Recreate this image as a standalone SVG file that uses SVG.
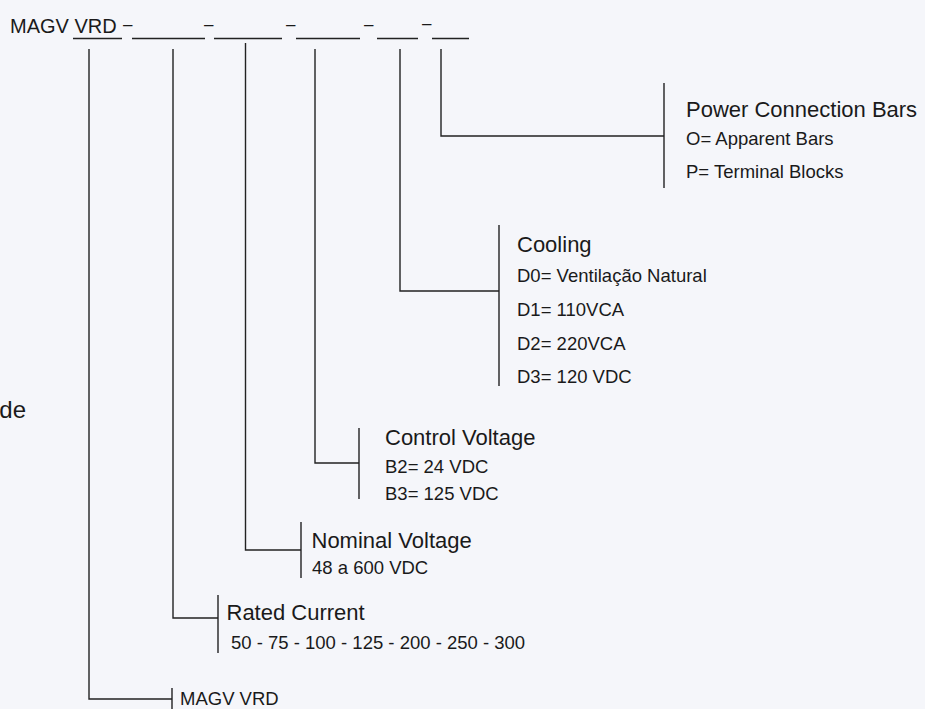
<svg xmlns="http://www.w3.org/2000/svg" width="925" height="709" viewBox="0 0 925 709">
<style>
  text { font-family: "Liberation Sans", Arial, Helvetica, sans-serif; fill: #1a1a1a; }
  .title { font-size: 22px; }
  .sub { font-size: 18.5px; }
  .hdr { font-size: 20px; }
  .dash { font-size: 17px; }
  .ln { stroke: #222; stroke-width: 1.4; fill: none; }
</style>
<rect width="925" height="709" fill="#f5f6fa"/>

<g id="header">
  <text class="hdr" x="10" y="33">MAGV VRD</text>
  <line class="ln" x1="73" y1="38.5" x2="122" y2="38.5"/>
  <text class="dash" x="123" y="29.5">–</text>
  <line class="ln" x1="132" y1="38.5" x2="205" y2="38.5"/>
  <text class="dash" x="204" y="29.5">–</text>
  <line class="ln" x1="214" y1="38.5" x2="282" y2="38.5"/>
  <text class="dash" x="286" y="29.5">–</text>
  <line class="ln" x1="296" y1="38.5" x2="360" y2="38.5"/>
  <text class="dash" x="364" y="29.5">–</text>
  <line class="ln" x1="377" y1="38.5" x2="418" y2="38.5"/>
  <text class="dash" x="422" y="29">–</text>
  <line class="ln" x1="432" y1="38.5" x2="469" y2="38.5"/>
</g>

<g id="side-label">
  <text x="26" y="418" font-size="24" text-anchor="end">de</text>
</g>

<g id="connectors">
  <!-- Power Connection Bars -->
  <polyline class="ln" points="441,49 441,136 664,136"/>
  <line class="ln" x1="664" y1="83" x2="664" y2="188"/>
  <!-- Cooling -->
  <polyline class="ln" points="400,49 400,291 499,291"/>
  <line class="ln" x1="499" y1="225" x2="499" y2="386"/>
  <!-- Control Voltage -->
  <polyline class="ln" points="315,49 315,463 359,463"/>
  <line class="ln" x1="359" y1="428" x2="359" y2="499"/>
  <!-- Nominal Voltage -->
  <polyline class="ln" points="245.5,43 245.5,550 301,550"/>
  <line class="ln" x1="301" y1="522" x2="301" y2="578"/>
  <!-- Rated Current -->
  <polyline class="ln" points="173,49 173,618 218,618"/>
  <line class="ln" x1="218" y1="595" x2="218" y2="653"/>
  <!-- MAGV VRD -->
  <polyline class="ln" points="89,49 89,699 172,699"/>
  <line class="ln" x1="172" y1="688" x2="172" y2="712"/>
</g>

<g id="power">
  <text class="title" x="686" y="116.5">Power Connection Bars</text>
  <text class="sub" x="686" y="144.5">O= Apparent Bars</text>
  <text class="sub" x="686" y="178">P= Terminal Blocks</text>
</g>

<g id="cooling">
  <text class="title" x="517" y="251.5">Cooling</text>
  <text class="sub" x="517" y="281.5">D0= Ventilação Natural</text>
  <text class="sub" x="517" y="316">D1= 110VCA</text>
  <text class="sub" x="517" y="350">D2= 220VCA</text>
  <text class="sub" x="517" y="382.5">D3= 120 VDC</text>
</g>

<g id="control">
  <text class="title" x="385" y="444.5">Control Voltage</text>
  <text class="sub" x="385" y="472.5">B2= 24 VDC</text>
  <text class="sub" x="385" y="499.5">B3= 125 VDC</text>
</g>

<g id="nominal">
  <text class="title" x="311.5" y="547.5">Nominal Voltage</text>
  <text class="sub" x="312" y="573.5">48 a 600 VDC</text>
</g>

<g id="rated">
  <text class="title" x="226.5" y="620">Rated Current</text>
  <text class="sub" x="231" y="649">50 - 75 - 100 - 125 - 200 - 250 - 300</text>
</g>

<g id="model">
  <text class="sub" x="180" y="705">MAGV VRD</text>
</g>
</svg>
